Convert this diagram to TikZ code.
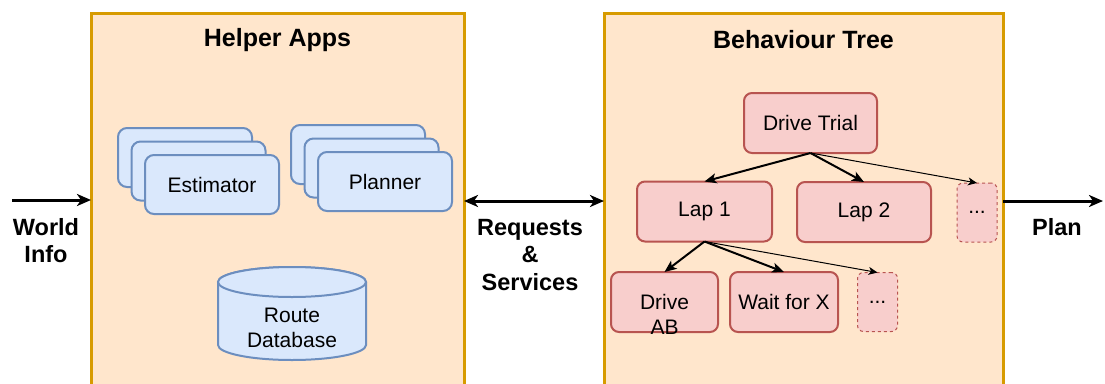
\documentclass[tikz,border=0pt]{standalone}
\usepackage{fontspec}
\setmainfont{Liberation Sans}
\usetikzlibrary{arrows.meta}
\definecolor{panelline}{HTML}{D79B00}
\definecolor{panelfill}{HTML}{FFE6CC}
\definecolor{appline}{HTML}{6C8EBF}
\definecolor{appfill}{HTML}{DAE8FC}
\definecolor{treeline}{HTML}{B85450}
\definecolor{treefill}{HTML}{F8CECC}
\begin{document}
\begin{tikzpicture}[x=1pt,y=-1pt,inner sep=0pt,outer sep=0pt,
font=\fontsize{21}{25}\selectfont,
panel/.style={draw=panelline,fill=panelfill,line width=3pt,rectangle,anchor=north west,minimum height=420pt},
paneltitle/.style={font=\fontsize{25}{30}\selectfont\bfseries},
sidelabel/.style={font=\fontsize{23.5}{27.5}\selectfont\bfseries,align=center},
appbox/.style={draw=appline,fill=appfill,line width=2pt,rounded corners=9pt,minimum width=134pt,minimum height=59pt},
dbshape/.style={draw=appline,fill=appfill,line width=2pt},
treebox/.style={draw=treeline,fill=treefill,line width=2pt,rounded corners=8pt,minimum height=60pt},
dotbox/.style={draw=treeline,fill=treefill,line width=1pt,dashed,rounded corners=6pt,minimum width=40pt,minimum height=59pt},
sidearrow/.style={line width=3pt,>={Stealth[length=14pt,width=12pt,inset=4pt]}},
treearrow/.style={-{Stealth[length=12pt,width=10pt,inset=3pt]},line width=2pt},
thinarrow/.style={-{Stealth[length=9pt,width=8pt,inset=2.5pt]},line width=1pt}]
\clip (0,0) rectangle (1105,383);

% the two panels
\draw (91,13) node[panel,minimum width=373pt] (helper) {};
\draw (604,13) node[panel,minimum width=399pt] (tree) {};
\path (helper.north) ++(0,27) node[paneltitle] (helpertitle) {Helper Apps};
\path (tree.north) ++(0,27) node[paneltitle] (treetitle) {Behaviour Tree};

% helper apps
\draw (185,157.5) node[appbox] (est3) {};
\draw (198.5,171) node[appbox] (est2) {};
\draw (212,184.5) node[appbox] (est) {Estimator};
\draw (358,154.5) node[appbox] (plan3) {};
\draw (371.5,168) node[appbox] (plan2) {};
\draw (385,181.5) node[appbox] (planner) {Planner};
% route database cylinder
\draw[dbshape] (218,282) -- (218,345) arc[start angle=180,end angle=360,x radius=74pt,y radius=15pt]
  -- (366,282) arc[start angle=0,end angle=180,x radius=74pt,y radius=15pt] -- cycle;
\draw[dbshape] (292,282) ellipse[x radius=74pt,y radius=15pt];
\draw (292,327.5) node[align=center] (routedb) {Route\\Database};

% behaviour tree
\draw (810.5,123) node[treebox,minimum width=133pt] (trial) {Drive Trial};
\draw (704.5,211.5) node[treebox,minimum width=135pt] (lap1) {Lap 1};
\draw (864,212) node[treebox,minimum width=134pt] (lap2) {Lap 2};
\draw (977,212.5) node[dotbox] (dots1) {...};
\draw (664.5,302) node[treebox,minimum width=107pt,label={[align=center,yshift=-12pt]center:{Drive\\AB}}] (driveab) {};
\draw (784,302) node[treebox,minimum width=108pt] (waitx) {Wait for X};
\draw (877.5,302) node[dotbox] (dots2) {...};
\draw[treearrow] (trial.south) -- (lap1.north);
\draw[treearrow] (trial.south) -- (lap2.north);
\draw[thinarrow] (trial.south) -- (dots1.north);
\draw[treearrow] (lap1.south) -- (driveab.north);
\draw[treearrow] (lap1.south) -- (waitx.north);
\draw[thinarrow] (lap1.south) -- (dots2.north);

% inputs and outputs
\coordinate (worldin) at (12,200);
\coordinate (link) at (534,201);
\coordinate (planout) at (1103,201);
\draw[sidearrow,->] (worldin) -- (worldin -| helper.west);
\draw[sidearrow,<->] (link -| helper.east) -- (link -| tree.west);
\draw[sidearrow,->] (planout -| tree.east) -- (planout);
\draw (46,240.5) node[sidelabel] (worldinfo) {World\\Info};
\draw (530,255) node[sidelabel] (requests) {Requests\\\&\\Services};
\draw (1057,227) node[sidelabel] (plan) {Plan};

\end{tikzpicture}
\end{document}
